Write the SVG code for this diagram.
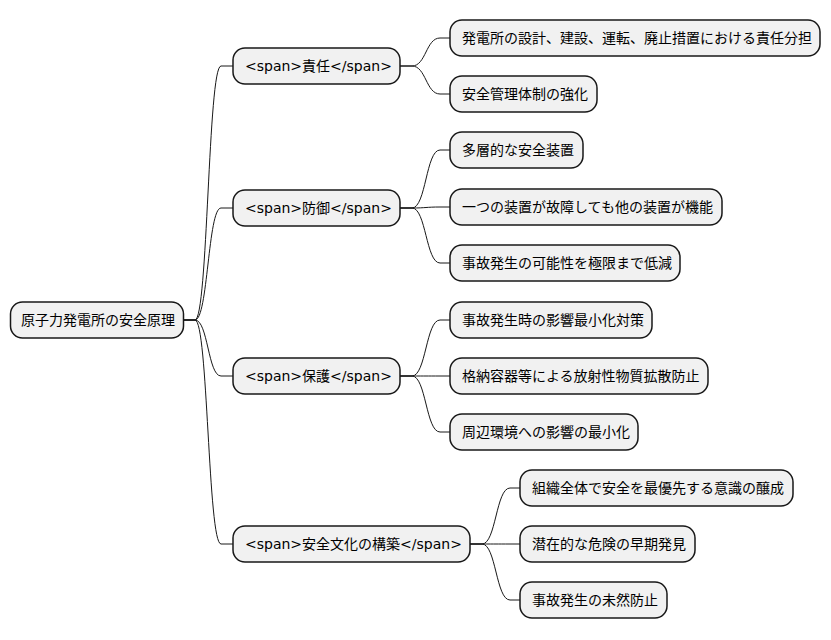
<svg xmlns="http://www.w3.org/2000/svg" width="831" height="640" viewBox="0 0 831 640">
<style>
.box{fill:#F1F1F1;stroke:#181818;stroke-width:1.5}
.t{font-family:"DejaVu Sans","Noto Sans CJK JP",sans-serif;font-size:14px;fill:#000000}
.c{fill:none;stroke:#181818;stroke-width:1}
</style>
<rect width="831" height="640" fill="#FFFFFF"/>
<g id="connectors">
<path class="c" d="M183.5 320 H195 C208 320 208 66 221 66 H233"/>
<path class="c" d="M183.5 320 H195 C208 320 208 208 221 208 H233"/>
<path class="c" d="M183.5 320 H195 C208 320 208 376 221 376 H233"/>
<path class="c" d="M183.5 320 H195 C208 320 208 544 221 544 H233"/>
<path class="c" d="M400 66 H412 C426 66 426 38 440 38 H450"/>
<path class="c" d="M400 66 H412 C426 66 426 94 440 94 H450"/>
<path class="c" d="M400 208 H412 C426 208 426 150 440 150 H450"/>
<path class="c" d="M400 208 H412 C426 208 426 207 440 207 H450"/>
<path class="c" d="M400 208 H412 C426 208 426 263 440 263 H450"/>
<path class="c" d="M400 376 H412 C426 376 426 320 440 320 H450"/>
<path class="c" d="M400 376 H412 C426 376 426 376 440 376 H450"/>
<path class="c" d="M400 376 H412 C426 376 426 432 440 432 H450"/>
<path class="c" d="M470 544 H482 C496 544 496 488 510 488 H520"/>
<path class="c" d="M470 544 H482 C496 544 496 544 510 544 H520"/>
<path class="c" d="M470 544 H482 C496 544 496 600 510 600 H520"/>
</g>
<g id="root"><rect class="box" x="10.5" y="302" width="173" height="36" rx="12"/><text class="t" x="21" y="325">原子力発電所の安全原理</text></g>
<g id="n1"><rect class="box" x="233" y="48" width="167" height="36" rx="12"/><text class="t" x="245" y="71">&lt;span&gt;責任&lt;/span&gt;</text></g>
<g id="n2"><rect class="box" x="233" y="190" width="167" height="36" rx="12"/><text class="t" x="245" y="213">&lt;span&gt;防御&lt;/span&gt;</text></g>
<g id="n3"><rect class="box" x="233" y="358" width="167" height="36" rx="12"/><text class="t" x="245" y="381">&lt;span&gt;保護&lt;/span&gt;</text></g>
<g id="n4"><rect class="box" x="233" y="526" width="237" height="36" rx="12"/><text class="t" x="245" y="549">&lt;span&gt;安全文化の構築&lt;/span&gt;</text></g>
<g id="n1a"><rect class="box" x="450" y="20" width="370" height="36" rx="12"/><text class="t" x="462" y="43">発電所の設計、建設、運転、廃止措置における責任分担</text></g>
<g id="n1b"><rect class="box" x="450" y="76" width="147" height="36" rx="12"/><text class="t" x="462" y="99">安全管理体制の強化</text></g>
<g id="n2a"><rect class="box" x="450" y="132" width="133" height="36" rx="12"/><text class="t" x="462" y="155">多層的な安全装置</text></g>
<g id="n2b"><rect class="box" x="450" y="189" width="272" height="36" rx="12"/><text class="t" x="462" y="212">一つの装置が故障しても他の装置が機能</text></g>
<g id="n2c"><rect class="box" x="450" y="245" width="230" height="36" rx="12"/><text class="t" x="462" y="268">事故発生の可能性を極限まで低減</text></g>
<g id="n3a"><rect class="box" x="450" y="302" width="202" height="36" rx="12"/><text class="t" x="462" y="325">事故発生時の影響最小化対策</text></g>
<g id="n3b"><rect class="box" x="450" y="358" width="258" height="36" rx="12"/><text class="t" x="462" y="381">格納容器等による放射性物質拡散防止</text></g>
<g id="n3c"><rect class="box" x="450" y="414" width="188" height="36" rx="12"/><text class="t" x="462" y="437">周辺環境への影響の最小化</text></g>
<g id="n4a"><rect class="box" x="520" y="470" width="273" height="36" rx="12"/><text class="t" x="532" y="493">組織全体で安全を最優先する意識の醸成</text></g>
<g id="n4b"><rect class="box" x="520" y="526" width="175" height="36" rx="12"/><text class="t" x="532" y="549">潜在的な危険の早期発見</text></g>
<g id="n4c"><rect class="box" x="520" y="582" width="147" height="36" rx="12"/><text class="t" x="532" y="605">事故発生の未然防止</text></g>
</svg>
